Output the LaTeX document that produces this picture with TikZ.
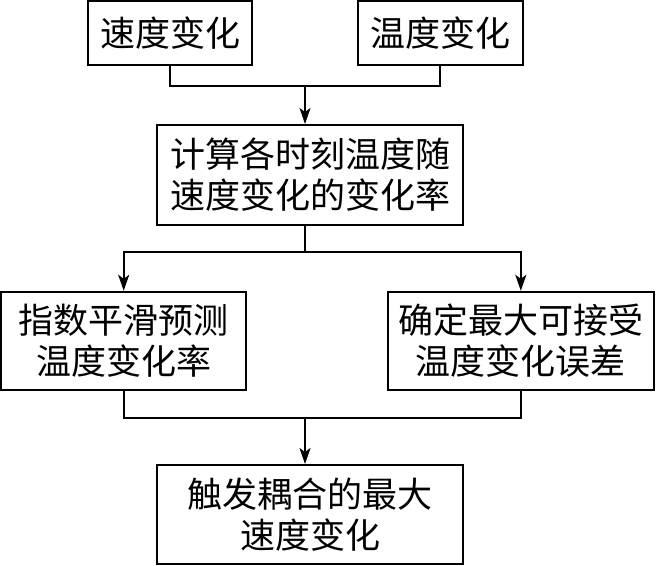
\documentclass[tikz,border=0pt]{standalone}
\usepackage{fontspec}
\setmainfont{Noto Sans CJK SC}
\usetikzlibrary{arrows.meta,positioning}

\tikzset{
  box/.style={draw, line width=1pt, align=center, inner sep=0pt,
    font=\fontsize{17.5}{20.5}\selectfont},
  line/.style={line width=1pt},
  arrow/.style={line width=1pt, -{Stealth[length=8pt,width=5.5pt,inset=2pt]}}
}

\begin{document}
\begin{tikzpicture}[x=0.5pt, y=-0.5pt]
  \useasboundingbox (0,0) rectangle (657,566);

  % --- Inputs ---
  \node[box, minimum width=82pt, minimum height=31.75pt] (speed) at (170,33) {速度变化};
  \node[box, minimum width=82.5pt, minimum height=31.75pt] (temp) at (440,33) {温度变化};

  % --- Rate of change ---
  \node[box, minimum width=153pt, minimum height=50pt] (rate) at (310,175)
    {计算各时刻温度随\\速度变化的变化率};

  % --- Two branches ---
  \node[box, minimum width=122.6pt, minimum height=49.2pt] (smooth) at (123.7,341)
    {指数平滑预测\\温度变化率};
  \node[box, minimum width=133.2pt, minimum height=49.2pt] (error) at (520.8,341)
    {确定最大可接受\\温度变化误差};

  % --- Result ---
  \node[box, minimum width=153pt, minimum height=49.5pt] (result) at (310,514.5)
    {触发耦合的最大\\速度变化};

  % --- Connectors ---
  \coordinate (join) at (305,86);
  \coordinate (split) at (305,252);
  \coordinate (merge) at (305,418);

  \draw[line] (speed.south) |- (join) -| (temp.south);
  \draw[arrow] (join) -- (join |- rate.north);

  \draw[line] (split |- rate.south) -- (split);
  \draw[arrow] (split) -| (smooth.north);
  \draw[arrow] (split) -| (error.north);

  \draw[line] (smooth.south) |- (merge) -| (error.south);
  \draw[arrow] (merge) -- (merge |- result.north);
\end{tikzpicture}
\end{document}
